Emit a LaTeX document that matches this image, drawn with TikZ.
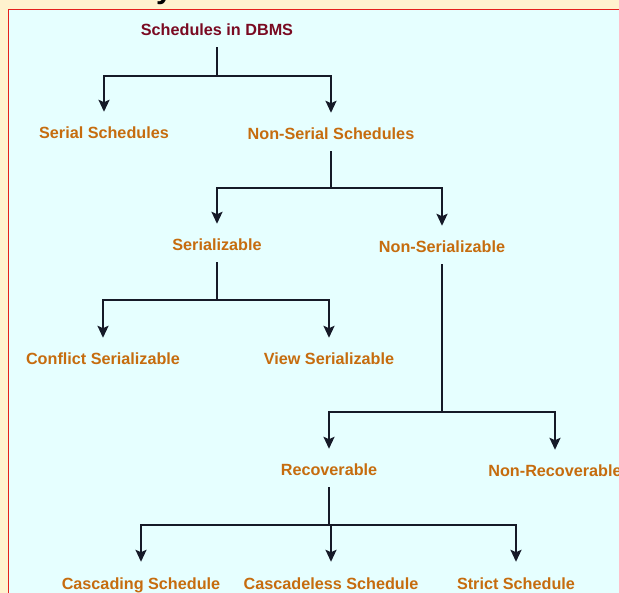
\documentclass[tikz,border=0pt]{standalone}
\usepackage{fontspec}
\setmainfont{Liberation Sans}
\usetikzlibrary{arrows.meta}
\definecolor{pagebg}{RGB}{255,242,206}
\definecolor{panelbg}{RGB}{230,255,255}
\definecolor{framered}{RGB}{228,32,28}
\definecolor{rootred}{RGB}{122,10,34}
\definecolor{leaforange}{RGB}{198,108,14}
\definecolor{linkink}{RGB}{22,26,40}
\tikzset{
  lbl/.style={font=\bfseries\fontsize{16.2}{18}\selectfont, text=leaforange,
    inner sep=0pt, text height=12pt, text depth=0pt},
  rootlbl/.style={lbl, text=rootred},
  link/.style={draw=linkink, line width=2.2pt, shorten <=11pt, shorten >=15pt,
    -{Stealth[length=12pt,width=11pt,inset=2.5pt]}}
}
\begin{document}
\begin{tikzpicture}[x=1pt,y=-1pt]
  % page and panel
  \fill[pagebg] (0,0) rectangle (619,593);
  \useasboundingbox (0,0) rectangle (619,593);
  \filldraw[fill=panelbg, draw=framered, line width=1.4pt] (8.5,9.5) rectangle (660,640);
  % tail of the heading letter above the panel
  \begin{scope}
    \clip (0,0) rectangle (619,8.5);
    \node[anchor=base west, inner sep=0pt, font=\bfseries\fontsize{30}{32}\selectfont] (cut) at (156,-1) {y};
  \end{scope}

  % nodes
  \node[rootlbl] (root) at (217,30) {Schedules in DBMS};
  \node[lbl] (serial)  at (104,133) {Serial Schedules};
  \node[lbl] (nonser)  at (331,134) {Non-Serial Schedules};
  \node[lbl] (sable)   at (217,245) {Serializable};
  \node[lbl] (nsable)  at (442,247) {Non-Serializable};
  \node[lbl] (conf)    at (103,359) {Conflict Serializable};
  \node[lbl] (view)    at (329,359) {View Serializable};
  \node[lbl] (rec)     at (329,470) {Recoverable};
  \node[lbl] (nrec)    at (555,471) {Non-Recoverable};
  \node[lbl] (casc)    at (141,583) {Cascading Schedule};
  \node[lbl] (cless)   at (331,583) {Cascadeless Schedule};
  \node[lbl] (strict)  at (516,583) {Strict Schedule};

  % branching levels
  \coordinate (bar1) at (0,76);
  \coordinate (bar2) at (0,188);
  \coordinate (bar3) at (0,300);
  \coordinate (bar4) at (0,412);
  \coordinate (bar5) at (0,525);

  % connectors
  \draw[link] (root.south) -- (root.south |- bar1) -| (serial.north);
  \draw[link] (root.south) -- (root.south |- bar1) -| (nonser.north);
  \draw[link] (nonser.south) -- (nonser.south |- bar2) -| (sable.north);
  \draw[link] (nonser.south) -- (nonser.south |- bar2) -| (nsable.north);
  \draw[link] (sable.south) -- (sable.south |- bar3) -| (conf.north);
  \draw[link] (sable.south) -- (sable.south |- bar3) -| (view.north);
  \draw[link] (nsable.south) -- (nsable.south |- bar4) -| (rec.north);
  \draw[link] (nsable.south) -- (nsable.south |- bar4) -| (nrec.north);
  \draw[link] (rec.south) -- (rec.south |- bar5) -| (casc.north);
  \draw[link] (rec.south) -- (rec.south |- bar5) -| (cless.north);
  \draw[link] (rec.south) -- (rec.south |- bar5) -| (strict.north);
\end{tikzpicture}
\end{document}
